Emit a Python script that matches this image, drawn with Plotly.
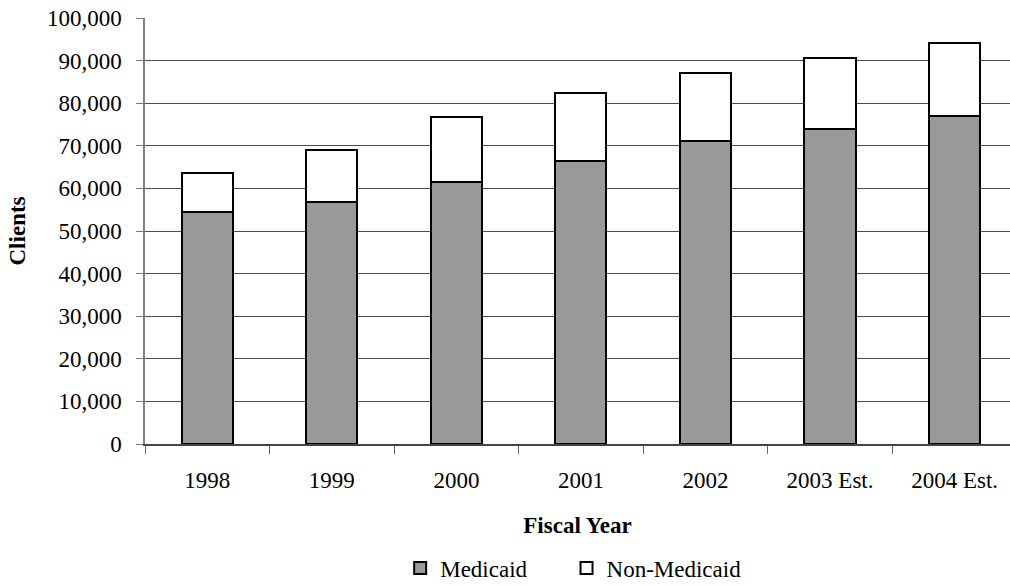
import plotly.graph_objects as go

years = ["1998", "1999", "2000", "2001", "2002", "2003 Est.", "2004 Est."]
medicaid = [54500, 56700, 61500, 66400, 71200, 74000, 77000]
non_medicaid = [9200, 12400, 15250, 15900, 16000, 16700, 17200]
y_ticks = [0, 10000, 20000, 30000, 40000, 50000, 60000, 70000, 80000, 90000, 100000]

FONT = "Liberation Serif, Times New Roman, serif"
PAD = "\u00a0" * 6

fig = go.Figure()
fig.add_trace(go.Bar(
    x=years, y=medicaid, name="Medicaid" + PAD,
    marker=dict(color="#999999", line=dict(color="#000000", width=2)),
))
fig.add_trace(go.Bar(
    x=years, y=non_medicaid, name="Non-Medicaid",
    marker=dict(color="#ffffff", line=dict(color="#000000", width=2)),
))

fig.update_layout(
    barmode="stack",
    bargap=0.59,
    width=1010, height=585,
    margin=dict(l=145, r=0, t=18, b=141, autoexpand=False),
    paper_bgcolor="white", plot_bgcolor="white",
    font=dict(family=FONT, size=23, color="#000000"),
    showlegend=True,
    legend=dict(
        orientation="h", x=0.495, xanchor="center", y=-0.291, yanchor="middle",
        font=dict(family=FONT, size=23), traceorder="normal",
    ),
    xaxis=dict(
        type="category", range=[-0.5, 6.445],
        tickson="boundaries", ticks="outside", ticklen=8, tickcolor="#666666",
        showline=True, linecolor="#444444", linewidth=1.5,
        showgrid=False, automargin=False,
        ticklabelstandoff=15,
        title=dict(text="<b>Fiscal Year</b>", font=dict(family=FONT, size=23), standoff=25),
        tickfont=dict(family=FONT, size=23),
    ),
    yaxis=dict(
        range=[0, 100000], tickvals=y_ticks,
        tickformat=",d", ticks="outside", ticklen=7, tickcolor="#777777",
        showline=True, linecolor="#808080", linewidth=1.5,
        showgrid=True, gridcolor="#4d4d4d", gridwidth=1,
        zeroline=False, automargin=False,
        ticklabelstandoff=10,
        title=dict(text="<b>Clients</b>", font=dict(family=FONT, size=23), standoff=15),
        tickfont=dict(family=FONT, size=23),
    ),
)

fig.write_html(
    "out.html",
    config={"displayModeBar": False},
    post_script="document.body.style.margin='0';document.body.style.overflow='hidden';",
)
